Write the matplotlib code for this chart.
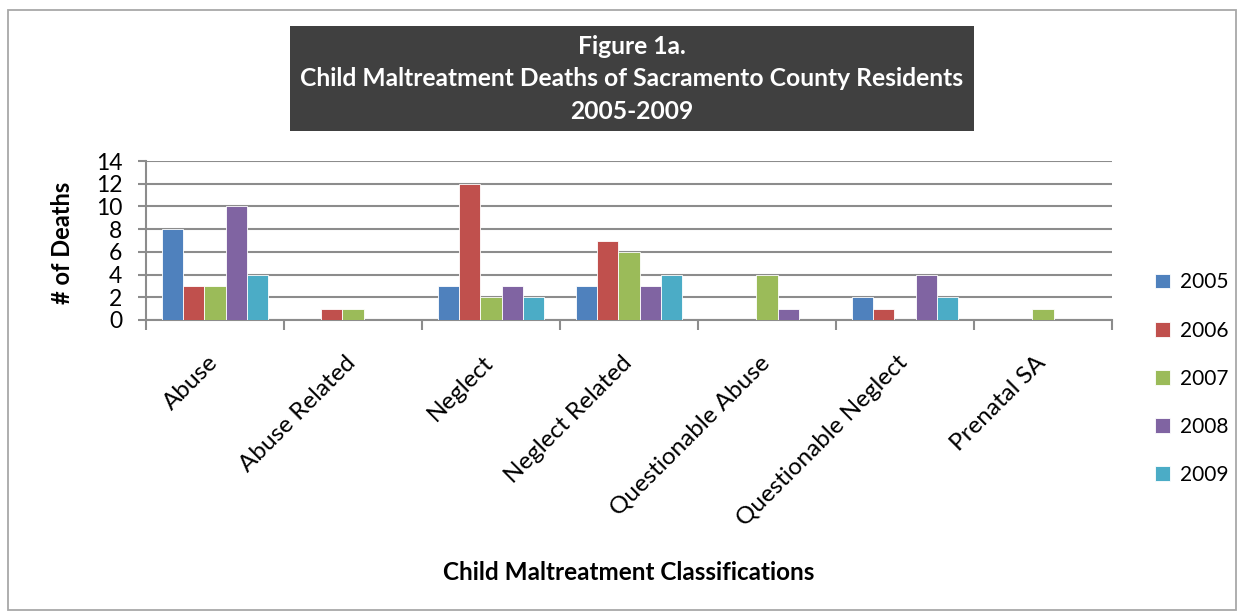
import numpy as np
import matplotlib
matplotlib.use('Agg')
import matplotlib.pyplot as plt
from matplotlib.patches import Rectangle

plt.rcParams['font.family'] = ['Lato', 'DejaVu Sans']

categories = ['Abuse', 'Abuse Related', 'Neglect', 'Neglect Related',
              'Questionable Abuse', 'Questionable Neglect', 'Prenatal SA']
years = ['2005', '2006', '2007', '2008', '2009']
d2005 = [8, 0, 3, 3, 0, 2, 0]
d2006 = [3, 1, 12, 7, 0, 1, 0]
d2007 = [3, 1, 2, 6, 4, 0, 1]
d2008 = [10, 0, 3, 3, 1, 4, 0]
d2009 = [4, 0, 2, 4, 0, 2, 0]
series = [d2005, d2006, d2007, d2008, d2009]
colors = ['#4F81BD', '#C0504D', '#9BBB59', '#8064A2', '#4BACC6']

W, H = 1241, 614
fig = plt.figure(figsize=(W / 100, H / 100), dpi=100)

# outer chart border
fig.patches.append(Rectangle((8 / W, 4 / H), 1228 / W, 600 / H, transform=fig.transFigure,
                             fill=False, edgecolor='#a8a8a8', linewidth=1.3))

# title box
fig.patches.append(Rectangle((290 / W, 1 - 131 / H), 684 / W, 105 / H, transform=fig.transFigure,
                             facecolor='#404040', edgecolor='none'))
fig.text(632 / W, 1 - 79 / H, 'Figure 1a.\nChild Maltreatment Deaths of Sacramento County Residents\n2005-2009',
         ha='center', va='center', color='white', fontsize=17.7, fontweight='bold', linespacing=1.5)

ax = fig.add_axes([146 / W, 1 - 320 / H, 966 / W, 159 / H])
x = np.arange(len(categories))
bw = 1 / 6.5
for i, (vals, c, yr) in enumerate(zip(series, colors, years)):
    ax.bar(x + (i - 2) * bw, vals, width=bw, color=c, edgecolor='white', linewidth=0.6, label=yr, zorder=3)

ax.set_xlim(-0.5, len(categories) - 0.5)
ax.set_ylim(0, 14)
ax.set_yticks(range(0, 15, 2))
ax.yaxis.grid(True, color='#8c8c8c', linewidth=1.5, zorder=0)
ax.set_axisbelow(True)
for s in ['top', 'right']:
    ax.spines[s].set_visible(False)
for s in ['left', 'bottom']:
    ax.spines[s].set_color('#8c8c8c')
    ax.spines[s].set_linewidth(1.5)

ax.set_xticks(np.arange(-0.5, len(categories), 1))
ax.set_xticklabels([])
ax.tick_params(axis='x', length=7, width=1.5, color='#8c8c8c', direction='out')
ax.tick_params(axis='y', length=6, width=1.5, color='#8c8c8c', labelsize=16.5, pad=11)

for xi, name in zip(x, categories):
    ax.text(xi - 0.06, -2.8, name, rotation=45, ha='right', va='top', rotation_mode='anchor',
            fontsize=17.5, transform=ax.transData)

fig.text(62 / W, 1 - 243 / H, '# of Deaths', rotation=90, ha='center', va='center',
         fontsize=17, fontweight='bold')
fig.text(629 / W, 1 - 572 / H, 'Child Maltreatment Classifications', ha='center', va='center',
         fontsize=17.5, fontweight='bold')

handles, labels = ax.get_legend_handles_labels()
leg = fig.legend(handles, labels, loc='upper left', bbox_to_anchor=(1145 / W, 1 - 262 / H),
                 frameon=False, fontsize=15, handlelength=0.7, handleheight=0.7,
                 labelspacing=1.35, handletextpad=0.5, borderpad=0)

fig.savefig('out.png', dpi=100)
